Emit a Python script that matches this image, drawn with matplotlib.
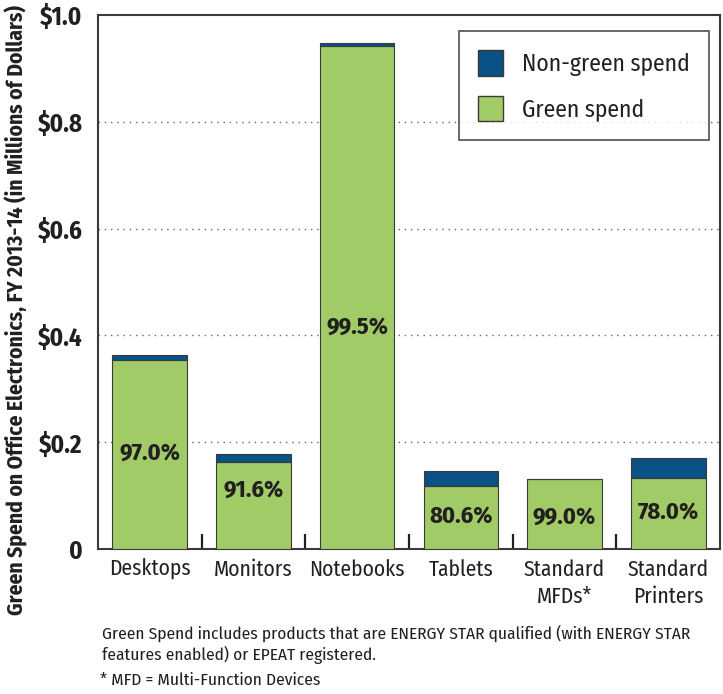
import numpy as np
import matplotlib
matplotlib.use("Agg")
import matplotlib.pyplot as plt
from matplotlib.patches import Patch

plt.rcParams["font.family"] = ["Fira Sans Condensed", "PT Sans Narrow", "Barlow Semi Condensed",
                               "DejaVu Sans"]

# data
categories = ["Desktops", "Monitors", "Notebooks", "Tablets", "Standard\nMFDs*", "Standard\nPrinters"]
total_spend = [0.364, 0.178, 0.947, 0.147, 0.132, 0.170]
green_share = [97.0, 91.6, 99.5, 80.6, 99.0, 78.0]
y_ticks = [0, 0.2, 0.4, 0.6, 0.8, 1.0]
y_tick_labels = ["0", "$0.2", "$0.4", "$0.6", "$0.8", "$1.0"]

GREEN = "#a1cb66"
BLUE = "#0a5185"
TEXT = "#231f20"
EDGE = "#3a3a3a"


def main():
    total = np.array(total_spend)
    share = np.array(green_share) / 100
    green = total * share
    non_green = total - green
    x = np.arange(len(categories))

    fig = plt.figure(figsize=(7.23, 6.94), dpi=100)
    ax = fig.add_axes([0.1355, 0.2089, 0.8604, 0.7695])

    ax.bar(x, green, width=0.72, color=GREEN, edgecolor=EDGE, linewidth=0.8, zorder=3)
    ax.bar(x, non_green, bottom=green, width=0.72, color=BLUE, edgecolor=EDGE,
           linewidth=0.8, zorder=3)

    # percent labels inside the green part
    label_y = [0.18, 0.111, 0.416, 0.06, 0.06, 0.067]
    for xi, yi, s in zip(x, label_y, green_share):
        ax.text(xi, yi, f"{s:.1f}%", ha="center", va="center", fontsize=17.5,
                fontweight="bold", color=TEXT, zorder=4)

    ax.set_xlim(-0.5, len(categories) - 0.5)
    ax.set_ylim(0, 1.0)
    ax.set_yticks(y_ticks)
    ax.set_yticklabels(y_tick_labels, fontsize=18, fontweight="bold", color=TEXT)
    ax.tick_params(axis="y", length=0, pad=11)

    ax.set_xticks(x)
    ax.set_xticklabels(categories, fontsize=15.5, color=TEXT, linespacing=1.35)
    ax.tick_params(axis="x", which="major", length=0, pad=7)
    ax.set_xticks(x[:-1] + 0.5, minor=True)
    ax.tick_params(axis="x", which="minor", direction="in", length=10.5, width=1.6,
                   color=TEXT)

    for yv in y_ticks[1:-1]:
        ax.axhline(yv, color="#666666", linewidth=1.0, linestyle=(0, (1, 3.5)), zorder=1)

    for sp in ax.spines.values():
        sp.set_color(EDGE)
        sp.set_linewidth(1.5)

    ax.set_ylabel("Green Spend on Office Electronics, FY 2013-14 (in Millions of Dollars)",
                  fontsize=15.5, fontweight="bold", color=TEXT)
    ax.yaxis.set_label_coords(-0.112, 0.447)

    handles = [Patch(facecolor=BLUE, edgecolor=EDGE, linewidth=1.0),
               Patch(facecolor=GREEN, edgecolor=EDGE, linewidth=1.0)]
    leg = ax.legend(handles, ["Non-green spend", "Green spend"], loc="upper right",
                    bbox_to_anchor=(0.982, 0.97), fontsize=17, frameon=True,
                    fancybox=False, handlelength=1.06, handleheight=1.3,
                    borderpad=0.8, labelspacing=0.85, handletextpad=0.8,
                    borderaxespad=0)
    leg.get_frame().set_edgecolor(TEXT)
    leg.get_frame().set_linewidth(1.2)
    leg.set_zorder(5)
    for t in leg.get_texts():
        t.set_color(TEXT)

    fig.text(0.141, 0.072, "Green Spend includes products that are ENERGY STAR qualified (with ENERGY STAR\n"
             "features enabled) or EPEAT registered.", fontsize=12.5, color=TEXT,
             va="center", linespacing=1.27)
    fig.text(0.138, 0.020, "* MFD = Multi-Function Devices", fontsize=12.5, color=TEXT,
             va="center")

    fig.savefig("out.png", dpi=100)


if __name__ == "__main__":
    main()
